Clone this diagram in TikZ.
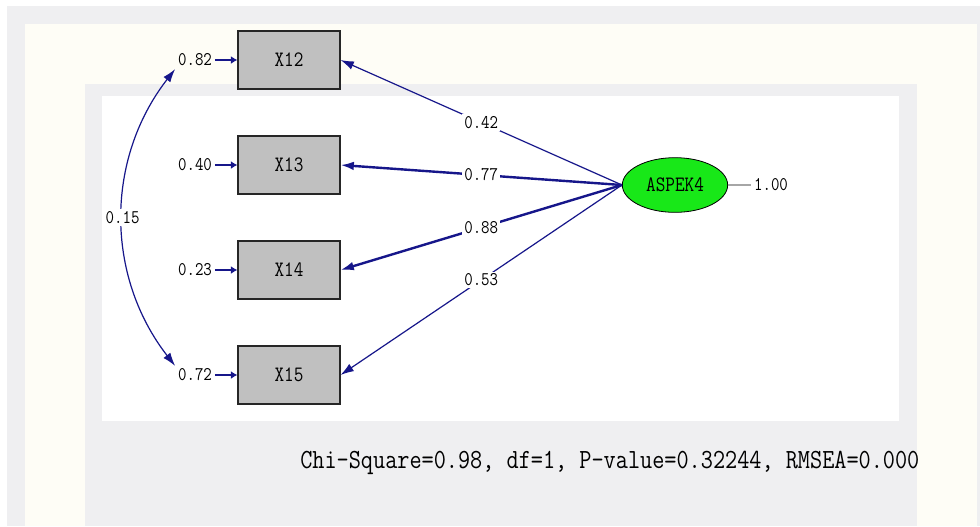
\documentclass[tikz,border=0pt]{standalone}
\usepackage{fontspec}
\usetikzlibrary{arrows.meta,shapes.geometric,positioning}
\newfontfamily\lisrel[FakeStretch=0.85]{Latin Modern Mono}
\definecolor{pathblue}{RGB}{22,22,138}
\definecolor{boxgray}{RGB}{192,192,192}
\definecolor{latgreen}{RGB}{24,232,24}
\definecolor{bggray}{RGB}{239,239,241}
\definecolor{bgcream}{RGB}{254,253,246}
\tikzset{
  obsbox/.style={draw=black!85,line width=1.3pt,fill=boxgray,minimum width=76pt,minimum height=43pt,
    font=\lisrel\fontsize{16.5}{16.5}\selectfont},
  latent/.style={ellipse,draw=black,line width=0.6pt,fill=latgreen,minimum width=79pt,minimum height=41pt,
    inner sep=0pt,font=\lisrel\fontsize{16.5}{16.5}\selectfont},
  errlab/.style={inner sep=2pt,font=\lisrel\fontsize{14.5}{14.5}\selectfont},
  loadlab/.style={fill=white,text=black,inner sep=1.5pt,font=\lisrel\fontsize{14.5}{14.5}\selectfont},
  load/.style={pathblue,-{Latex[length=10pt,width=6.5pt]}},
  errarr/.style={pathblue,line width=2pt,-{Latex[length=5pt,width=6pt]}}
}
\begin{document}
\begin{tikzpicture}[x=0.75pt,y=-0.75pt]
  \useasboundingbox (0,0) rectangle (980,526);
  % background
  \fill[white] (0,0) rectangle (980,526);
  \fill[bggray] (7,6) rectangle (980,526);
  \fill[bgcream] (25,24) rectangle (977,526);
  \fill[bggray] (85,84) rectangle (917,526);
  \fill[white] (102,96) rectangle (899,421);

  % observed variables
  \node[obsbox] (x12) at (289,60) {X12};
  \node[obsbox] (x13) at (289,165) {X13};
  \node[obsbox] (x14) at (289,270) {X14};
  \node[obsbox] (x15) at (289,375) {X15};

  % latent variable
  \node[latent] (asp) at (675,185) {ASPEK4};
  \node[errlab] (res) at (771,185) {1.00};
  \draw[gray!70,line width=0.8pt] (asp.east) -- (res.west);

  % error variances
  \node[errlab] (e12) at (195,60) {0.82};
  \node[errlab] (e13) at (195,165) {0.40};
  \node[errlab] (e14) at (195,270) {0.23};
  \node[errlab] (e15) at (195,375) {0.72};
  \foreach \v in {12,13,14,15}
    \path[errarr] (e\v.east) edge (x\v.west);

  % loadings
  \path[load] (asp.west) edge[line width=0.9pt] node[loadlab] {0.42} (x12.east)
    (asp.west) edge[line width=1.8pt] node[loadlab] {0.77} (x13.east)
    (asp.west) edge[line width=1.8pt] node[loadlab] {0.88} (x14.east)
    (asp.west) edge[line width=0.9pt] node[loadlab] {0.53} (x15.east);

  % error covariance
  \draw[pathblue,line width=0.9pt,{Latex[length=10pt,width=6.5pt]}-{Latex[length=10pt,width=6.5pt]}]
    (e12.south west) .. controls +(-70,90) and +(-70,-90) .. (e15.north west)
    node[loadlab,pos=0.5] {0.15};

  \node[anchor=west,inner sep=0pt,font=\lisrel\fontsize{20.8}{21}\selectfont] (fit) at (300,463)
    {Chi-Square=0.98, df=1, P-value=0.32244, RMSEA=0.000};
\end{tikzpicture}
\end{document}
